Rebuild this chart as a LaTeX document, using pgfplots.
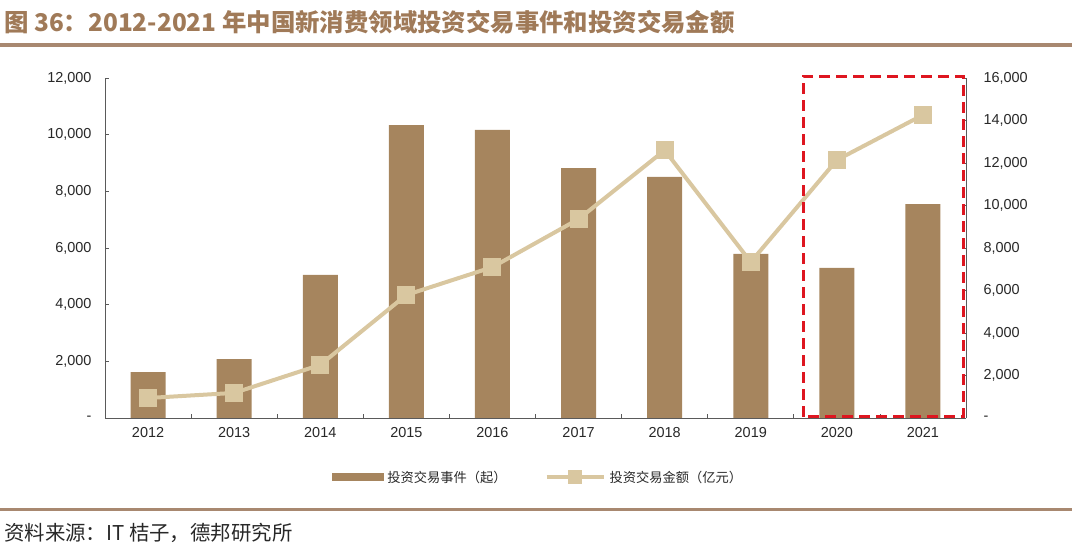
\documentclass[border=0pt]{standalone}
\usepackage{pgfplots}
\pgfplotsset{compat=1.18}
\usepackage{fontspec}
\setmainfont{Liberation Sans}
\newfontfamily\cjk{Noto Sans CJK SC}
\definecolor{barc}{RGB}{166,133,94}
\definecolor{linec}{RGB}{217,199,160}
\definecolor{titlec}{RGB}{160,122,88}
\definecolor{rulec}{RGB}{168,136,112}
\definecolor{txt}{RGB}{40,40,40}
\definecolor{axc}{RGB}{90,90,90}
\definecolor{boxred}{RGB}{222,22,32}
\pgfplotsset{
  linelegend/.style={legend image code/.code={\draw[##1, mark size=5bp, mark repeat=2, mark phase=2] plot coordinates {(0bp,0bp) (28bp,0bp) (57bp,0bp)};}},
  barlegend/.style={legend image code/.code={\fill[barc] (0bp,-3.5bp) rectangle (51bp,3.5bp);}},
}
\begin{document}
\begin{tikzpicture}[x=1bp,y=1bp]
\path[use as bounding box] (0,0) rectangle (1080,552);
\node[anchor=west, text=titlec, font=\cjk\bfseries\fontsize{24.5}{28}\selectfont, inner sep=0] at (4,530) {图 36：2012-2021 年中国新消费领域投资交易事件和投资交易金额};
\draw[rulec, line width=3.5bp] (0,507) -- (1072,507);
\draw[rulec, line width=3bp] (0,42) -- (1072,42);
\node[anchor=west, text=txt, font=\cjk\fontsize{20.5}{24}\selectfont, inner sep=0] at (4,19) {资料来源：IT 桔子，德邦研究所};

\begin{axis}[
  at={(105bp,134bp)}, anchor=south west, scale only axis,
  width=861bp, height=340bp,
  xmin=-0.5, xmax=9.5, ymin=0, ymax=12000,
  scaled y ticks=false,
  axis x line*=bottom, axis y line*=left,
  axis line style={axc, line width=0.8bp, -},
  tick align=inside, major tick length=4bp,
  tick style={axc, line width=0.8bp},
  xtick={0.5,1.5,...,8.5}, xticklabels={},
  extra x ticks={0,1,2,3,4,5,6,7,8,9},
  extra x tick labels={2012,2013,2014,2015,2016,2017,2018,2019,2020,2021},
  extra x tick style={major tick length=0pt, xticklabel style={yshift=-6bp}},
  ytick={0,2000,4000,6000,8000,10000,12000},
  yticklabels={-,{2,000},{4,000},{6,000},{8,000},{10,000},{12,000}},
  yticklabel style={xshift=-10bp},
  ticklabel style={font=\fontsize{14.5}{16}\selectfont, text=txt},
  clip=false,
]
\addplot[ybar, bar width=35bp, fill=barc, draw=none] coordinates {
  (0,1620) (1,2080) (2,5050) (3,10340) (4,10170) (5,8820) (6,8510) (7,5790) (8,5300) (9,7550)
};
\end{axis}

\begin{axis}[
  at={(105bp,134bp)}, anchor=south west, scale only axis,
  width=861bp, height=340bp,
  xmin=-0.5, xmax=9.5, ymin=0, ymax=16000,
  scaled y ticks=false,
  axis x line=none, axis y line*=right,
  axis line style={axc, line width=0.8bp, -},
  tick align=inside, major tick length=4bp,
  tick style={axc, line width=0.8bp},
  ytick={0,2000,4000,6000,8000,10000,12000,14000,16000},
  yticklabels={-,{2,000},{4,000},{6,000},{8,000},{10,000},{12,000},{14,000},{16,000}},
  yticklabel style={xshift=14bp},
  ticklabel style={font=\fontsize{14.5}{16}\selectfont, text=txt},
  clip=false,
  legend columns=2,
  legend style={draw=none, fill=none, at={(0.504,-0.174)}, anchor=center,
    font=\cjk\fontsize{13.3}{15}\selectfont, text=txt,
    nodes={inner xsep=4bp},
    /tikz/every even column/.append style={column sep=34bp}},
  legend cell align=left,
]
\addlegendimage{barlegend}
\addlegendentry{投资交易事件（起）}
\addplot[linec, line width=4bp, mark=square*, mark size=7bp,
  mark options={fill=linec, draw=none}, linelegend]
 coordinates {
  (0,940) (1,1180) (2,2500) (3,5790) (4,7100) (5,9360) (6,12600) (7,7340) (8,12140) (9,14260)
};
\addlegendentry{投资交易金额（亿元）}
\draw[boxred, line width=3bp, dash pattern=on 11bp off 6bp] (axis cs:7.607,47) rectangle (axis cs:9.465,16093);
\end{axis}
\end{tikzpicture}
\end{document}
